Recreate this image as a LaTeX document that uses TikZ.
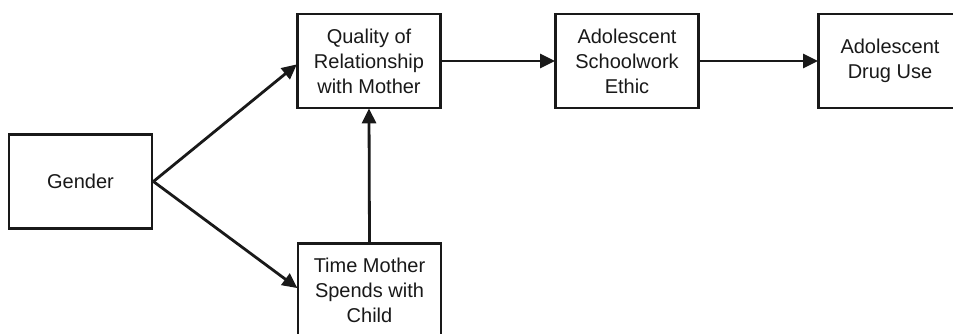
\documentclass[tikz,border=0pt]{standalone}
\usepackage{fontspec}
\setmainfont{Liberation Sans}
\usetikzlibrary{arrows.meta}
\begin{document}
\begin{tikzpicture}[x=1pt,y=-1pt,
  box/.style={draw=black!90,line width=2.8pt,fill=white,inner sep=0pt,
    minimum width=143pt,minimum height=94pt,align=center,
    font=\fontsize{20}{25}\selectfont,text=black!90},
  conn/.style={draw=black!90,line width=2.8pt,
    -{Triangle[length=15pt,width=14pt]},shorten >=-1pt}]
\useasboundingbox (0,0) rectangle (953,334);
\clip (0,0) rectangle (953,334);
\node[box] (gender) at (80.5,181.5) {Gender};
\node[box] (quality) at (369,61) {Quality of\\Relationship\\with Mother};
\node[box] (school) at (627,61) {Adolescent\\Schoolwork\\Ethic};
\node[box] (drug) at (890,61) {Adolescent\\Drug Use};
\node[box] (time) at (369.5,290.5) {Time Mother\\Spends with\\Child};
\draw[conn] (gender.east) -- ([yshift=-4pt]quality.west);
\draw[conn] (gender.east) -- ([yshift=3pt]time.west);
\draw[conn] (time.north) -- (quality.south);
\draw[conn] (quality.east) -- (school.west);
\draw[conn] (school.east) -- (drug.west);
\end{tikzpicture}
\end{document}
